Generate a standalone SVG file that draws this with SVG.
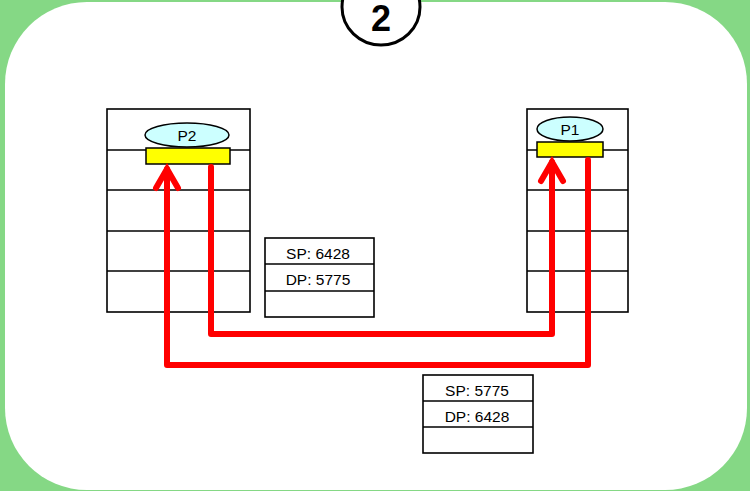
<svg xmlns="http://www.w3.org/2000/svg" width="750" height="491" viewBox="0 0 750 491">
<style>
.grid{fill:#fff;stroke:#000;stroke-width:1.6}
.ln{stroke:#000;stroke-width:1.6}
.proc{fill:#CCFFFF;stroke:#000;stroke-width:1.5}
.sock{fill:#FFFF00;stroke:#000;stroke-width:1.5}
.t{font-family:"Liberation Sans",Arial,sans-serif;font-size:15.5px;fill:#000;text-anchor:middle}
.wire{fill:none;stroke:#FF0000;stroke-width:6;stroke-linejoin:round;stroke-linecap:round}
.head{fill:none;stroke:#FF0000;stroke-width:6;stroke-linejoin:miter;stroke-linecap:round}
</style>
<rect x="0" y="0" width="750" height="491" fill="#85D885"/>
<rect x="5" y="2" width="742" height="488" rx="82" ry="82" fill="#fff"/>
<g id="step">
<ellipse cx="381" cy="7" rx="39" ry="38" fill="#fff" stroke="#000" stroke-width="3"/>
<text x="381" y="31" font-family="Liberation Sans,Arial,sans-serif" font-size="36" font-weight="bold" text-anchor="middle">2</text>
</g>
<g id="hostB">
<rect class="grid" x="107" y="109" width="143" height="203"/>
<line class="ln" x1="107" y1="150" x2="250" y2="150"/>
<line class="ln" x1="107" y1="190" x2="250" y2="190"/>
<line class="ln" x1="107" y1="231" x2="250" y2="231"/>
<line class="ln" x1="107" y1="271" x2="250" y2="271"/>
</g>
<g id="hostA">
<rect class="grid" x="527" y="109" width="101" height="203"/>
<line class="ln" x1="527" y1="150" x2="628" y2="150"/>
<line class="ln" x1="527" y1="190" x2="628" y2="190"/>
<line class="ln" x1="527" y1="231" x2="628" y2="231"/>
<line class="ln" x1="527" y1="271" x2="628" y2="271"/>
</g>
<g id="P2">
<ellipse class="proc" cx="187" cy="135" rx="42" ry="12"/>
<text class="t" x="187" y="140.5">P2</text>
</g>
<g id="sockP2"><rect class="sock" x="146" y="148" width="84" height="16"/></g>
<g id="P1">
<ellipse class="proc" cx="570" cy="129" rx="33" ry="12"/>
<text class="t" x="570" y="134.5">P1</text>
</g>
<g id="sockP1"><rect class="sock" x="537" y="142" width="66" height="15"/></g>
<g id="connectors">
<polyline class="wire" points="211,167 211,334 552,334 552,162"/>
<polyline class="head" points="541,181 552,162 563,181"/>
<polyline class="wire" points="588,160 588,365 167,365 167,169"/>
<polyline class="head" points="156,188 167,169 178,188"/>
</g>
<g id="seg1">
<rect class="grid" x="265" y="238" width="109" height="79"/>
<line class="ln" x1="265" y1="264" x2="374" y2="264"/>
<line class="ln" x1="265" y1="291" x2="374" y2="291"/>
<text class="t" x="318" y="258.5">SP: 6428</text>
<text class="t" x="318" y="284.5">DP: 5775</text>
</g>
<g id="seg2">
<rect class="grid" x="423" y="375" width="110" height="78"/>
<line class="ln" x1="423" y1="401" x2="533" y2="401"/>
<line class="ln" x1="423" y1="427" x2="533" y2="427"/>
<text class="t" x="477" y="395.5">SP: 5775</text>
<text class="t" x="477" y="421.5">DP: 6428</text>
</g>
</svg>
